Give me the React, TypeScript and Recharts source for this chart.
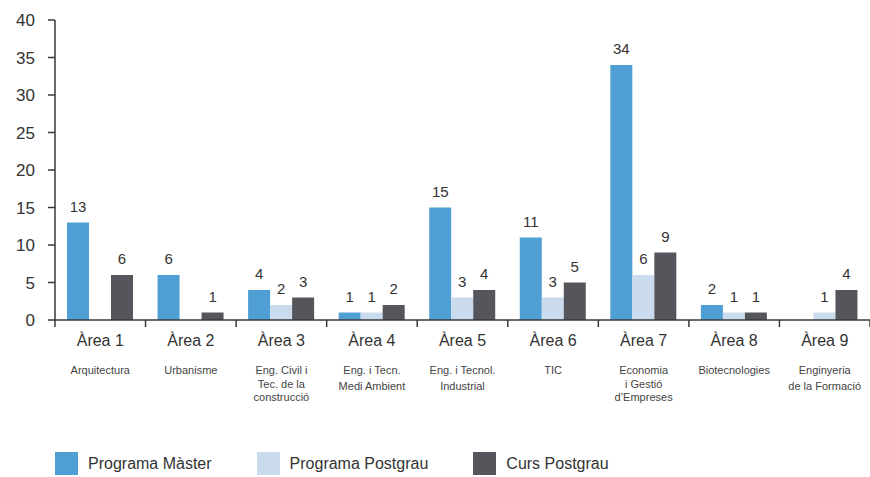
import { Bar, BarChart, LabelList, Legend, XAxis, YAxis } from 'recharts'

const areas = ['Àrea 1', 'Àrea 2', 'Àrea 3', 'Àrea 4', 'Àrea 5', 'Àrea 6', 'Àrea 7', 'Àrea 8', 'Àrea 9']
const subtitles = [
  ['Arquitectura'],
  ['Urbanisme'],
  ['Eng. Civil i', 'Tec. de la', 'construcció'],
  ['Eng. i Tecn.', 'Medi Ambient'],
  ['Eng. i Tecnol.', 'Industrial'],
  ['TIC'],
  ['Economia', 'i Gestió', 'd’Empreses'],
  ['Biotecnologies'],
  ['Enginyeria', 'de la Formació'],
]
const master = [13, 6, 4, 1, 15, 11, 34, 2, 0]
const postgrau = [0, 0, 2, 1, 3, 3, 6, 1, 1]
const curs = [6, 1, 3, 2, 4, 5, 9, 1, 4]
const yTicks = [0, 5, 10, 15, 20, 25, 30, 35, 40]

const series = [
  { key: 'master', name: 'Programa Màster', color: '#4f9fd4' },
  { key: 'postgrau', name: 'Programa Postgrau', color: '#c9dbed' },
  { key: 'curs', name: 'Curs Postgrau', color: '#55565b' },
]

const rows = areas.map((a, i) => ({
  name: a,
  idx: i,
  master: master[i],
  postgrau: postgrau[i],
  curs: curs[i],
}))

const FONT = '"Liberation Sans", Arial, sans-serif'
const AXIS = '#3a3a3a'

function CatTick(p: any) {
  const x = p.x ?? 0
  const y = p.y ?? 0
  const i = p.index ?? 0
  const half = p.payload?.offset ?? 815 / 18
  const subs = subtitles[i] ?? []
  const lh = subs.length > 2 ? 13.5 : 16
  return (
    <g>
      <line x1={x - half} y1={y} x2={x - half} y2={y + 7} stroke={AXIS} strokeWidth={1.5} />
      {i === areas.length - 1 && (
        <line x1={x + half} y1={y} x2={x + half} y2={y + 7} stroke={AXIS} strokeWidth={1.5} />
      )}
      <text x={x} y={y + 26} textAnchor="middle" fontSize={16} fill="#333" fontFamily={FONT}>
        {p.payload?.value}
      </text>
      {subs.map((s, k) => (
        <text
          key={k}
          x={x}
          y={y + 54 + k * lh}
          textAnchor="middle"
          fontSize={11}
          fill="#444"
          fontFamily={FONT}
        >
          {s}
        </text>
      ))}
    </g>
  )
}

// skip zero bars, value sits a bit above the bar
function ValueLabel(p: any) {
  const v = Number(p.value)
  if (!v) return null
  const x = Number(p.x) + Number(p.width) / 2
  const y = Number(p.y) - 11
  return (
    <text x={x} y={y} textAnchor="middle" fontSize={15} fill="#333" fontFamily={FONT}>
      {v}
    </text>
  )
}

function LegendBox() {
  return (
    <div style={{ display: 'flex', alignItems: 'center', paddingLeft: 55, fontFamily: FONT }}>
      {series.map((s, i) => (
        <div key={s.key} style={{ display: 'flex', alignItems: 'center', marginRight: i < 2 ? 45 : 0 }}>
          <span style={{ width: 23, height: 23, background: s.color, display: 'inline-block' }} />
          <span style={{ marginLeft: 10, fontSize: 16, color: '#333' }}>{s.name}</span>
        </div>
      ))}
    </div>
  )
}

export default function App() {
  return (
    <div style={{ position: 'absolute', left: 0, top: 0, background: '#fff' }}>
      <BarChart
        width={870}
        height={477}
        data={rows}
        margin={{ top: 20, right: 0, bottom: 2, left: 0 }}
        barCategoryGap={12}
        barGap={0}
      >
        <XAxis
          dataKey="name"
          interval={0}
          tickLine={false}
          tickSize={0}
          tickMargin={0}
          height={132}
          axisLine={{ stroke: AXIS, strokeWidth: 1.5 }}
          tick={<CatTick />}
        />
        <YAxis
          width={55}
          domain={[0, 40]}
          ticks={yTicks}
          interval={0}
          tickSize={7}
          tickMargin={13}
          axisLine={{ stroke: AXIS, strokeWidth: 1.5 }}
          tickLine={{ stroke: AXIS, strokeWidth: 1.5 }}
          tick={{ fontSize: 17, fill: '#333', fontFamily: FONT }}
        />
        <Legend verticalAlign="bottom" align="left" height={23} content={<LegendBox />} />
        {series.map((s) => (
          <Bar key={s.key} dataKey={s.key} name={s.name} fill={s.color} isAnimationActive={false}>
            <LabelList dataKey={s.key} content={<ValueLabel />} />
          </Bar>
        ))}
      </BarChart>
    </div>
  )
}
